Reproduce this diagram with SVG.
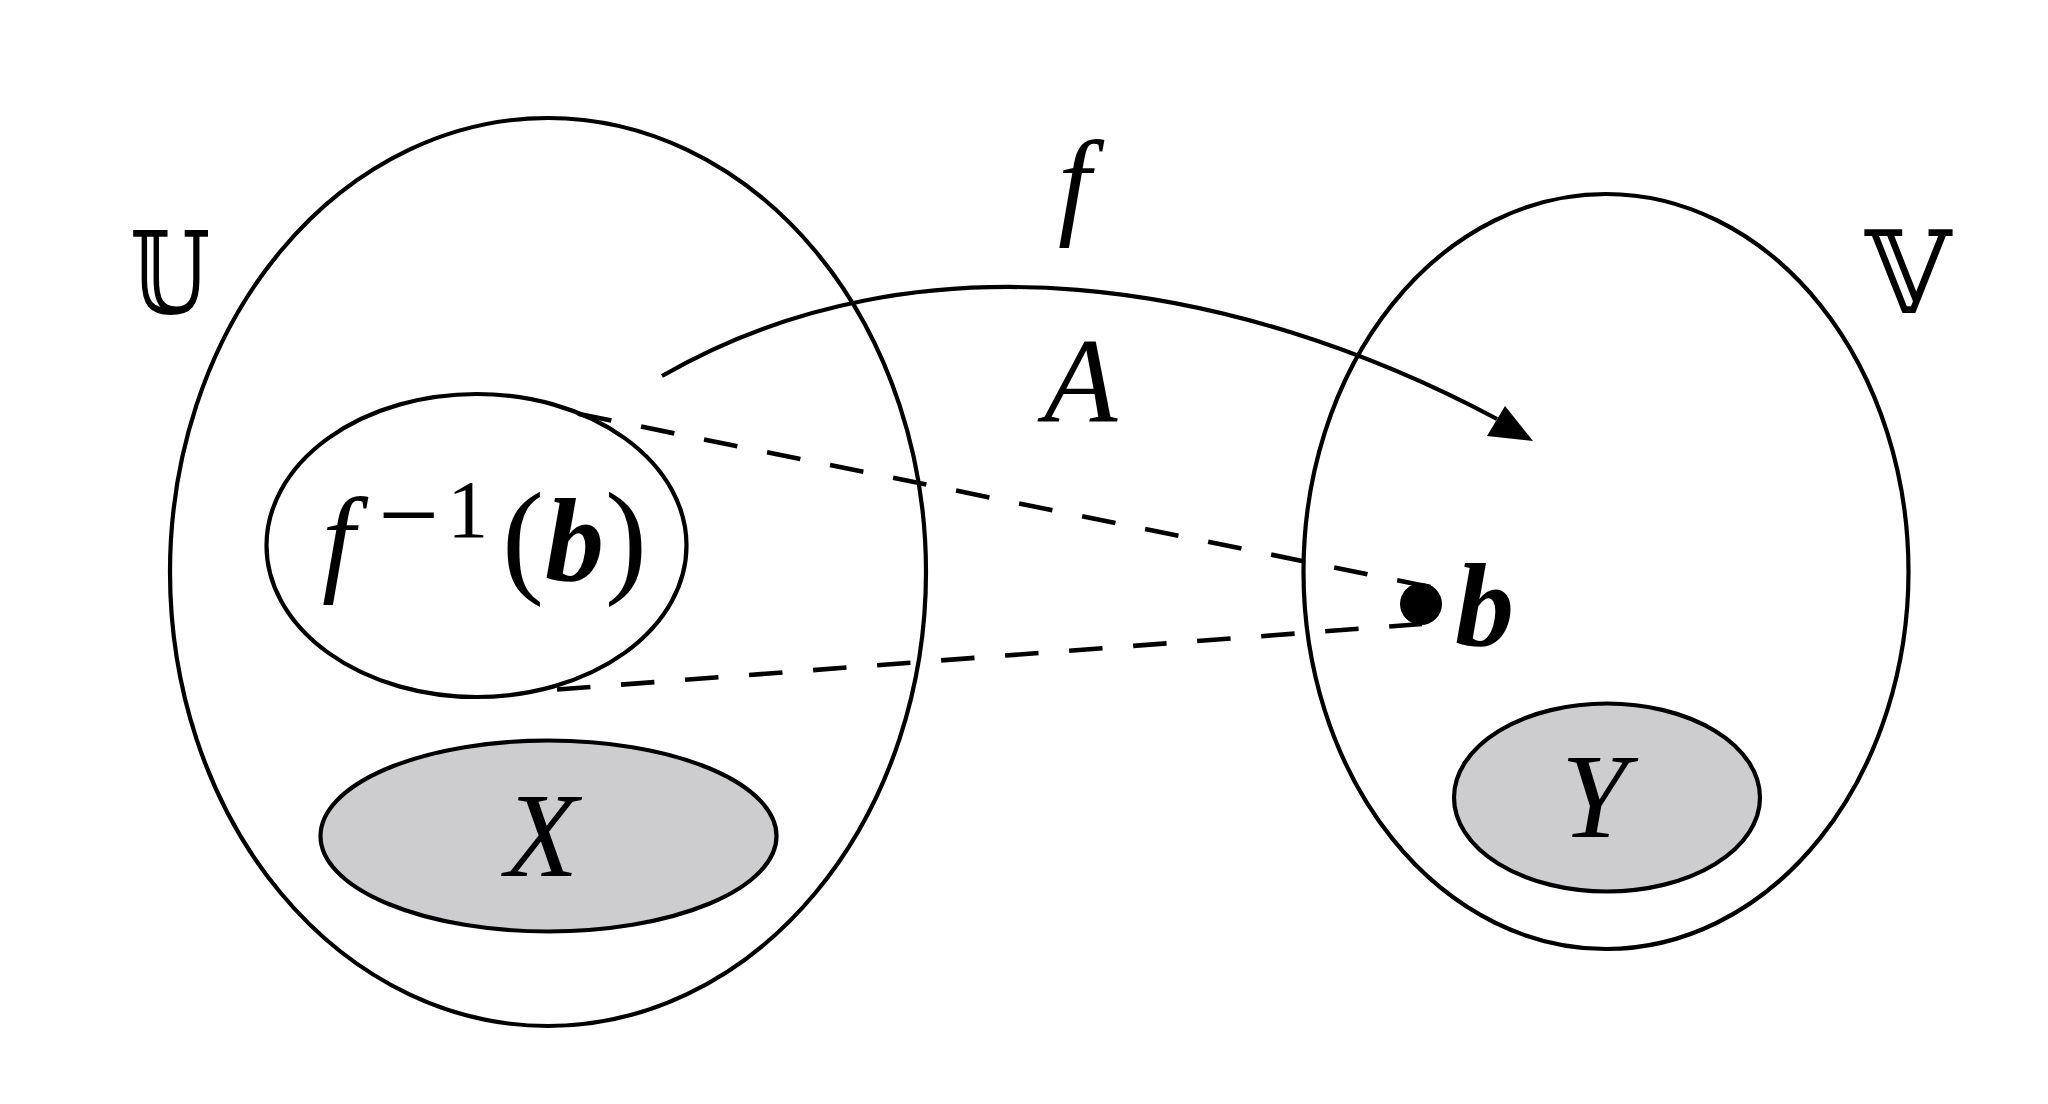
<svg xmlns="http://www.w3.org/2000/svg" width="2048" height="1104" viewBox="0 0 2048 1104">
  <style>
    .set { fill: none; stroke: #000; stroke-width: 4.2; }
    .shaded { fill: #cdccce; stroke: #000; stroke-width: 4.2; }
    .dash { fill: none; stroke: #000; stroke-width: 4.6; }
    .math { font-family: "Liberation Serif", "DejaVu Serif", serif; font-style: italic; fill: #000; }
    .roman { font-family: "Liberation Serif", "DejaVu Serif", serif; font-style: normal; fill: #000; }
    .bold { font-family: "Liberation Serif", "DejaVu Serif", serif; font-style: italic; font-weight: bold; fill: #000; }
    .bb { font-family: "DejaVu Serif", "DejaVu Sans", serif; fill: #000; }
  </style>
  <rect width="2048" height="1104" fill="#ffffff"/>

  <g id="node-U">
    <ellipse class="set" cx="548" cy="572" rx="378" ry="454"/>
    <text class="bb" x="130" y="313" font-size="115" textLength="80" lengthAdjust="spacingAndGlyphs">𝕌</text>
  </g>

  <g id="node-V">
    <ellipse class="set" cx="1606" cy="571.5" rx="302.5" ry="377.5"/>
    <text class="bb" x="1865" y="313" font-size="115" textLength="86" lengthAdjust="spacingAndGlyphs">𝕍</text>
  </g>

  <g id="node-preimage">
    <ellipse class="set" cx="476.5" cy="545.5" rx="210" ry="151.5"/>
    <text class="roman" y="580" font-size="118"><tspan class="math" x="322" y="580">f</tspan><tspan x="378" y="551" font-size="108">−</tspan><tspan x="447.3" y="537" font-size="82">1</tspan><tspan x="502" y="580" font-size="126">(</tspan><tspan class="bold" x="545" y="580">b</tspan><tspan x="605" y="580" font-size="126">)</tspan></text>
  </g>

  <g id="node-X">
    <ellipse class="shaded" cx="548.5" cy="836" rx="228" ry="95.5"/>
    <text class="math" x="505" y="876" font-size="120">X</text>
  </g>

  <g id="node-Y">
    <ellipse class="shaded" cx="1607" cy="797.5" rx="153" ry="94"/>
    <text class="math" x="1561" y="837" font-size="120">Y</text>
  </g>

  <g id="node-b">
    <circle cx="1421" cy="604" r="21" fill="#000"/>
    <text class="bold" x="1455" y="645" font-size="118">b</text>
  </g>

  <g id="connectors">
    <path id="edge-f" class="set" stroke-width="4.4" d="M662,376 C918,228 1236,280 1497,419"/>
    <polygon points="1533,441 1505,406 1487,436" fill="#000"/>
    <line class="dash" x1="578" y1="413.8" x2="1430.5" y2="587" stroke-dasharray="34 30.3"/>
    <line class="dash" x1="557" y1="689.5" x2="1422" y2="624" stroke-dasharray="33.5 30.7"/>
  </g>

  <g id="label-f">
    <text class="math" x="1058" y="223" font-size="118">f</text>
  </g>
  <g id="label-A">
    <text class="math" x="1044" y="422" font-size="120">A</text>
  </g>
</svg>
